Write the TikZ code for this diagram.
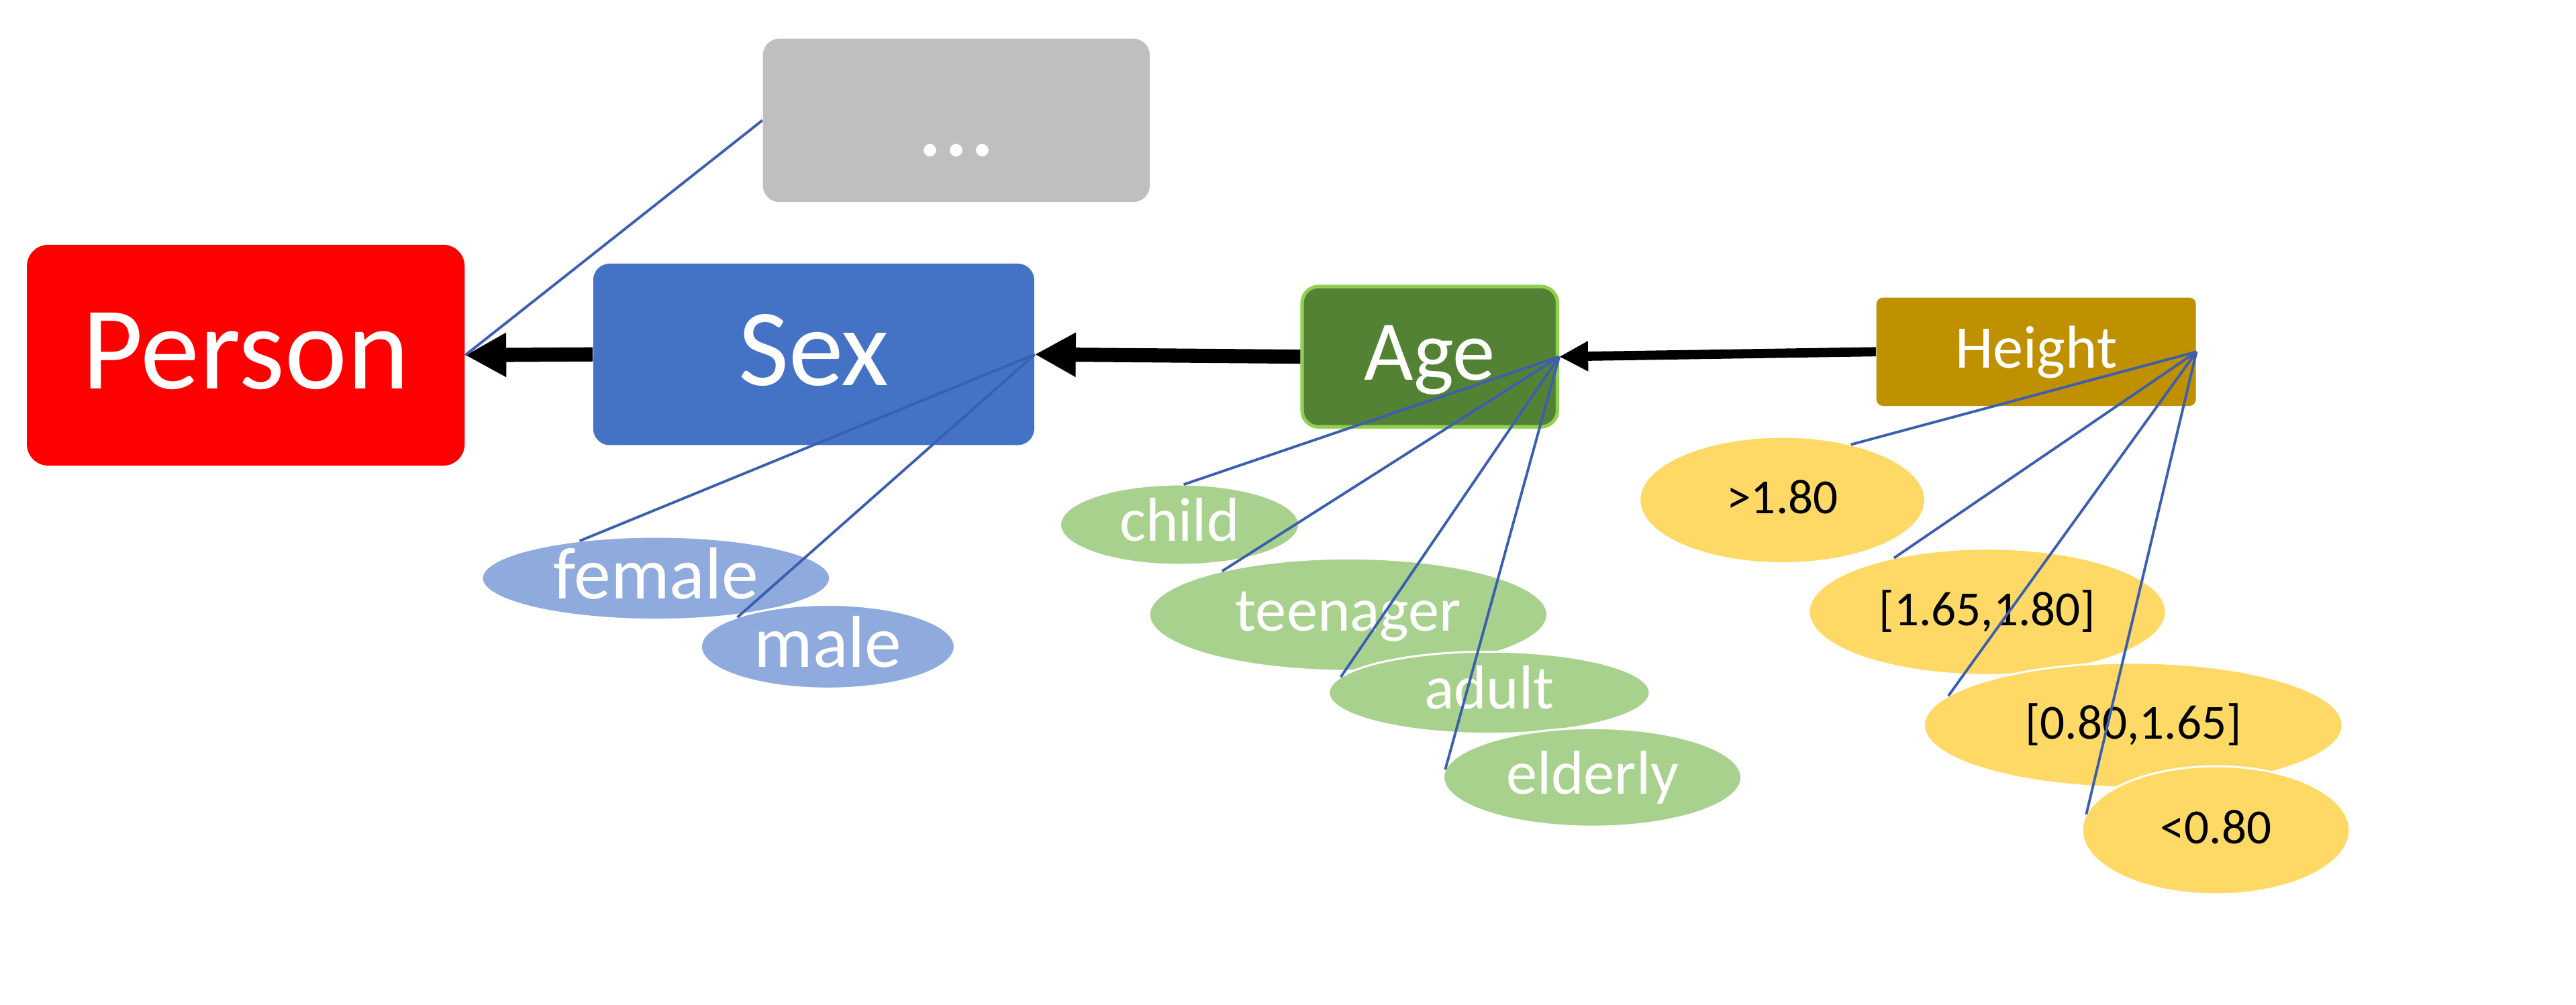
\documentclass[tikz,border=0pt]{standalone}
\usepackage{fontspec}
\setmainfont{Carlito}
\usetikzlibrary{arrows.meta,shapes.geometric}
\definecolor{personrot}{HTML}{FF0000}
\definecolor{sexblau}{HTML}{4472C4}
\definecolor{restgrau}{HTML}{BFBFBF}
\definecolor{agegruen}{HTML}{548235}
\definecolor{agerand}{HTML}{92D050}
\definecolor{heightgold}{HTML}{BF9000}
\definecolor{sexhell}{HTML}{8FAADC}
\definecolor{agehell}{HTML}{A9D18E}
\definecolor{heighthell}{HTML}{FFD966}
\definecolor{linkblau}{HTML}{3B5FAE}
\tikzset{
  attr/.style={rectangle,inner sep=0pt,text=white,text depth=0pt},
  val/.style={ellipse,draw=white,line width=0.7pt,inner sep=0pt,outer sep=0pt,text depth=0pt},
  sexval/.style={val,fill=sexhell,text=white,text height=14.2pt,font=\fontsize{25.5pt}{30pt}\selectfont},
  ageval/.style={val,fill=agehell,text=white,text height=11.4pt,font=\fontsize{21.5pt}{26pt}\selectfont},
  hval/.style={val,fill=heighthell,text=black,text height=9.4pt,font=\fontsize{17pt}{20pt}\selectfont},
  dep/.style={-{Triangle[length=14.2pt,width=14.4pt]},black,line width=4.9pt},
  depd/.style={-{Triangle[length=10pt,width=9.8pt]},black,line width=3.2pt},
  link/.style={linkblau,line width=0.9pt},
}

\begin{document}
\begin{tikzpicture}[x=0.02cm,y=0.02cm]
  \useasboundingbox (0,0) rectangle (1568,612);
  % --- Kaesten ---
  \node[attr,fill=personrot,minimum width=5.33cm,minimum height=2.69cm,rounded corners=0.26cm,
        text height=23.2pt,font=\fontsize{41pt}{49pt}\selectfont] (person) at (149.6,395.7) {Person};
  \node[attr,fill=sexblau,minimum width=5.37cm,minimum height=2.21cm,rounded corners=0.2cm,
        text height=21.6pt,font=\fontsize{38pt}{46pt}\selectfont] (sex) at (495.3,396.2) {Sex};
  \node[attr,fill=restgrau,minimum width=4.71cm,minimum height=1.99cm,rounded corners=0.2cm,
        text height=24.5pt,font=\fontsize{36pt}{43pt}\selectfont] (rest) at (582.1,538.7) {...};
  \node[attr,fill=agegruen,draw=agerand,line width=1.2pt,minimum width=3.11cm,minimum height=1.71cm,
        rounded corners=0.2cm,text height=16.3pt,font=\fontsize{29.5pt}{35pt}\selectfont] (age) at (870.3,394.8) {Age};
  \node[attr,fill=heightgold,minimum width=3.89cm,minimum height=1.32cm,rounded corners=0.08cm,
        text height=11.3pt,font=\fontsize{21pt}{25pt}\selectfont] (height) at (1239.4,397.8) {Height};

  % --- Werte ---
  \node[sexval,minimum width=4.24cm,minimum height=1.01cm] (female) at (399.3,259.9) {female};
  \node[sexval,minimum width=3.09cm,minimum height=1.02cm] (male) at (503.9,218.2) {male};

  \node[ageval,minimum width=2.91cm,minimum height=0.98cm] (child) at (718,292.5) {child};
  \node[ageval,minimum width=4.85cm,minimum height=1.37cm] (teen) at (820.7,237.7) {teenager};
  \node[ageval,minimum width=3.91cm,minimum height=1.0cm] (adult) at (906.5,190.2) {adult};
  \node[ageval,minimum width=3.63cm,minimum height=1.2cm] (elderly) at (969.3,138.6) {elderly};

  \node[hval,minimum width=3.48cm,minimum height=1.54cm] (tall) at (1084.9,307.5) {>1.80};
  \node[hval,minimum width=4.35cm,minimum height=1.54cm] (mid) at (1209.7,239.4) {[1.65,1.80]};
  \node[hval,minimum width=5.10cm,minimum height=1.52cm] (low) at (1298.5,170.4) {[0.80,1.65]};
  \node[hval,minimum width=3.26cm,minimum height=1.56cm] (tiny) at (1348.8,106.4) {<0.80};

  % --- Abhaengigkeiten ---
  \draw[dep] (sex.west) -- (person.east);
  \draw[dep] (age.west) -- (sex.east);
  \draw[depd] (height.west) -- (age.east);

  % --- Verbindungen ---
  \draw[link] (rest.west) -- (person.east);
  \draw[link] (sex.east) -- (female.154);
  \draw[link] (sex.east) -- (male.162);
  \draw[link] (age.east) -- (child.84);
  \draw[link] (age.east) -- (teen.161);
  \draw[link] (age.east) -- (adult.174);
  \draw[link] (age.east) -- (elderly.177);
  \draw[link] (height.east) -- (tall.39);
  \draw[link] (height.east) -- (mid.150);
  \draw[link] (height.east) -- (low.171);
  \draw[link] (height.east) -- (tiny.173);
\end{tikzpicture}
\end{document}
